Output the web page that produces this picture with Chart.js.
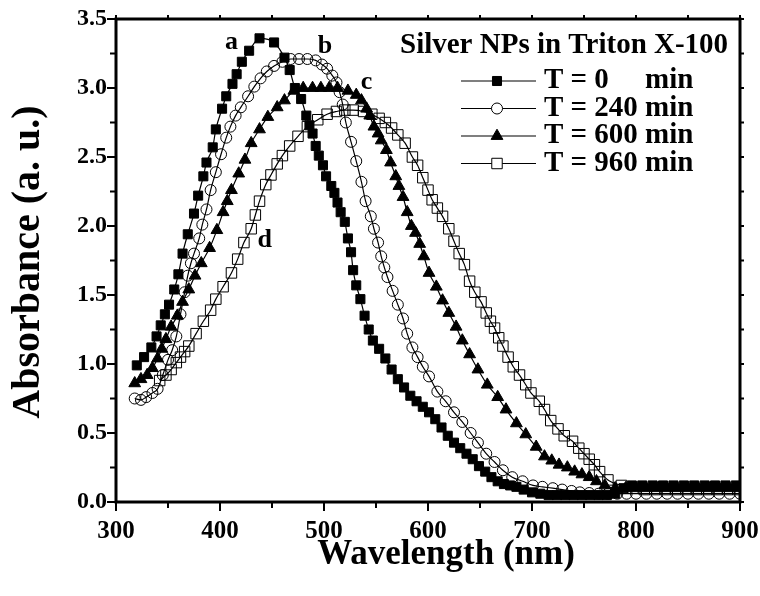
<!DOCTYPE html>
<html>
<head>
<meta charset="utf-8">
<title>Silver NPs in Triton X-100</title>
<script src="https://cdn.jsdelivr.net/npm/chart.js@4.4.1/dist/chart.umd.min.js"></script>
<style>
  body { margin: 0; background: #fff; }
  #chart { display: block; }
</style>
</head>
<body>
<canvas id="chart" width="760" height="596"></canvas>
<script>
// Absorbance spectra (wavelength in nm, absorbance in a.u.)

// a : T = 0 min
var waveA = [320, 327, 334, 339, 343, 347, 351, 356, 360, 364, 369, 375, 379, 384, 387, 393, 396, 402, 406, 412,
    416, 421, 428, 438, 452, 462, 467, 472, 478, 483, 486, 489, 492, 495, 499, 502, 507, 510, 513, 516,
    520, 523, 526, 528, 531, 535, 539, 543, 547, 553, 559, 565, 571, 577, 583, 589, 595, 601, 607, 613,
    619, 625, 631, 637, 643, 649, 655, 661, 667, 673, 679, 685, 692, 700, 708, 716, 724, 732, 740, 748,
    756, 764, 772, 780, 788, 796, 806, 816, 826, 836, 846, 856, 866, 876, 886, 896];
var absA = [0.99, 1.05, 1.12, 1.20, 1.28, 1.36, 1.43, 1.54, 1.65, 1.80, 1.94, 2.09, 2.22, 2.36, 2.46, 2.57, 2.70, 2.85, 2.94, 3.03,
    3.10, 3.19, 3.27, 3.36, 3.33, 3.22, 3.13, 3.00, 2.92, 2.80, 2.73, 2.67, 2.58, 2.51, 2.44, 2.36, 2.29, 2.24, 2.17, 2.10,
    2.03, 1.91, 1.81, 1.68, 1.57, 1.47, 1.35, 1.25, 1.17, 1.11, 1.04, 0.96, 0.89, 0.83, 0.77, 0.73, 0.69, 0.65, 0.60, 0.54,
    0.48, 0.43, 0.39, 0.35, 0.31, 0.26, 0.22, 0.18, 0.15, 0.13, 0.12, 0.11, 0.09, 0.07, 0.06, 0.05, 0.05, 0.05, 0.05, 0.05,
    0.05, 0.05, 0.05, 0.06, 0.10, 0.12, 0.12, 0.12, 0.12, 0.12, 0.12, 0.12, 0.12, 0.12, 0.12, 0.12];

// b : T = 240 min
var waveB = [318, 324, 329, 335, 340, 345, 350, 354, 358, 362, 366, 369, 372, 375, 380, 383, 387, 391, 396, 401,
    406, 410, 415, 420, 427, 433, 439, 445, 452, 460, 468, 476, 484, 492, 498, 503, 508, 512, 515, 518,
    521, 526, 531, 536, 540, 545, 548, 552, 555, 558, 561, 566, 571, 576, 580, 585, 590, 595, 601, 609,
    617, 625, 633, 641, 648, 656, 664, 672, 681, 691, 701, 710, 720, 729, 738, 746, 755, 764, 773, 782,
    791, 800, 810, 820, 830, 840, 850, 860, 870, 880, 890, 900];
var absB = [0.75, 0.74, 0.76, 0.79, 0.82, 0.92, 1.03, 1.10, 1.20, 1.36, 1.52, 1.64, 1.73, 1.80, 1.91, 2.01, 2.12, 2.26, 2.39, 2.52,
    2.64, 2.72, 2.80, 2.86, 2.94, 3.01, 3.07, 3.12, 3.16, 3.19, 3.21, 3.21, 3.21, 3.20, 3.17, 3.14, 3.09, 3.04, 2.97, 2.88,
    2.75, 2.61, 2.47, 2.32, 2.18, 2.07, 1.98, 1.88, 1.78, 1.70, 1.63, 1.53, 1.43, 1.33, 1.22, 1.12, 1.05, 0.98, 0.91, 0.80,
    0.73, 0.65, 0.58, 0.50, 0.43, 0.35, 0.29, 0.23, 0.18, 0.15, 0.12, 0.11, 0.10, 0.09, 0.08, 0.07, 0.065, 0.06, 0.06, 0.06,
    0.06, 0.06, 0.06, 0.06, 0.06, 0.06, 0.06, 0.06, 0.06, 0.06, 0.06, 0.06];

// c : T = 600 min
var waveC = [318, 324, 330, 335, 340, 344, 348, 353, 359, 364, 370, 376, 382, 390, 397, 403, 407, 411, 418, 424,
    430, 438, 446, 455, 462, 471, 480, 489, 497, 505, 513, 523, 531, 536, 541, 544, 548, 552, 555, 560,
    564, 569, 572, 576, 580, 584, 588, 592, 596, 601, 608, 614, 620, 627, 633, 640, 648, 657, 667, 675,
    685, 694, 704, 712, 719, 726, 734, 741, 748, 755, 762, 770, 780, 790, 800, 810, 820, 830, 840, 850,
    860, 870, 880, 890, 900];
var absC = [0.86, 0.89, 0.92, 0.97, 1.04, 1.11, 1.18, 1.27, 1.35, 1.45, 1.54, 1.64, 1.73, 1.84, 1.97, 2.10, 2.18, 2.26, 2.38, 2.48,
    2.60, 2.70, 2.79, 2.86, 2.91, 2.98, 3.00, 3.00, 3.00, 3.00, 3.00, 2.98, 2.95, 2.91, 2.85, 2.80, 2.72, 2.67, 2.62, 2.55,
    2.46, 2.36, 2.29, 2.21, 2.10, 2.00, 1.95, 1.87, 1.78, 1.66, 1.56, 1.46, 1.37, 1.27, 1.17, 1.07, 0.96, 0.85, 0.76, 0.67,
    0.57, 0.49, 0.40, 0.33, 0.30, 0.27, 0.25, 0.22, 0.20, 0.18, 0.15, 0.12, 0.10, 0.10, 0.10, 0.10, 0.10, 0.10, 0.10, 0.10,
    0.10, 0.10, 0.10, 0.10, 0.10];

// d : T = 960 min
var waveD = [342, 348, 353, 358, 362, 366, 370, 377, 384, 391, 396, 403, 411, 417, 423, 430, 434, 438, 444, 449,
    455, 460, 467, 475, 484, 494, 503, 512, 520, 528, 538, 546, 553, 559, 565, 571, 578, 585, 590, 595,
    600, 604, 609, 614, 620, 625, 630, 635, 640, 645, 651, 656, 660, 664, 668, 672, 677, 682, 688, 694,
    699, 707, 712, 718, 725, 731, 739, 745, 750, 755, 760, 765, 773, 786, 797, 808, 818, 828, 838, 848,
    858, 868, 878, 888, 898];
var absD = [0.88, 0.92, 0.96, 1.01, 1.05, 1.09, 1.13, 1.22, 1.31, 1.39, 1.47, 1.56, 1.66, 1.76, 1.88, 1.98, 2.08, 2.18, 2.30, 2.37,
    2.45, 2.51, 2.58, 2.65, 2.72, 2.77, 2.81, 2.83, 2.84, 2.84, 2.83, 2.81, 2.78, 2.75, 2.71, 2.66, 2.60, 2.50, 2.44, 2.35,
    2.26, 2.19, 2.13, 2.07, 1.98, 1.89, 1.80, 1.72, 1.60, 1.52, 1.45, 1.37, 1.31, 1.26, 1.19, 1.13, 1.05, 0.98, 0.92, 0.85,
    0.79, 0.73, 0.67, 0.59, 0.53, 0.48, 0.44, 0.39, 0.35, 0.31, 0.27, 0.22, 0.16, 0.12, 0.10, 0.09, 0.09, 0.09, 0.09, 0.09,
    0.09, 0.09, 0.09, 0.09, 0.09];

// legend / labels
var legendTitle = 'Silver NPs in Triton X-100';
var timeLabels = ['T = 0', 'T = 240', 'T = 600', 'T = 960'];
var curveLetters = ['a', 'b', 'c', 'd'];
var letterWave = [411, 501, 541, 443];
var letterAbs = [3.33, 3.30, 3.04, 1.90];

var xTitle = 'Wavelength (nm)';
var yTitle = 'Absorbance (a. u.)';

const serif = "'Liberation Serif', 'Times New Roman', serif";

function toPoints(xs, ys) {
    return xs.map((v, i) => ({ x: v, y: ys[i] }));
}

function series(xs, ys, style, fill, radius) {
    return {
        data: toPoints(xs, ys),
        showLine: true,
        borderColor: '#000',
        borderWidth: 1.2,
        cubicInterpolationMode: 'monotone',
        pointStyle: style,
        pointRadius: radius,
        pointBorderWidth: 1,
        pointBorderColor: '#000',
        pointBackgroundColor: fill,
        legendFill: fill === 'transparent' ? '#fff' : fill
    };
}

// marker shapes like chart.js draws them
function marker(ctx, style, fill, cx, cy, r) {
    ctx.beginPath();
    if (style === 'circle') {
        ctx.arc(cx, cy, r, 0, Math.PI * 2);
    } else if (style === 'triangle') {
        for (let k = 0; k < 3; k++) {
            const ang = k * 2 * Math.PI / 3;
            const px = cx + Math.sin(ang) * r;
            const py = cy - Math.cos(ang) * r;
            if (k === 0) ctx.moveTo(px, py); else ctx.lineTo(px, py);
        }
        ctx.closePath();
    } else {
        const s = r * Math.SQRT1_2;
        ctx.rect(cx - s, cy - s, 2 * s, 2 * s);
    }
    ctx.fillStyle = fill;
    ctx.fill();
    ctx.lineWidth = 1;
    ctx.strokeStyle = '#000';
    ctx.stroke();
}

// frame, ticks, titles, legend and letters
const decorations = {
    id: 'decorations',
    afterDraw(chart) {
        const ctx = chart.ctx;
        const area = chart.chartArea;
        const xs = chart.scales.x;
        const ys = chart.scales.y;
        ctx.save();

        ctx.strokeStyle = '#000';
        ctx.lineWidth = 3;
        ctx.strokeRect(area.left, area.top, area.right - area.left, area.bottom - area.top);

        ctx.lineWidth = 2;
        ctx.beginPath();
        for (let v = 300; v <= 900; v += 50) {
            const px = xs.getPixelForValue(v);
            const len = v % 100 === 0 ? 9 : 6;
            ctx.moveTo(px, area.bottom + 1);
            ctx.lineTo(px, area.bottom + len);
            ctx.moveTo(px, area.top - 1);
            ctx.lineTo(px, area.top - 4);
        }
        for (let i = 0; i <= 14; i++) {
            const py = ys.getPixelForValue(i * 0.25);
            const len = i % 2 === 0 ? 9 : 6;
            ctx.moveTo(area.left - 1, py);
            ctx.lineTo(area.left - len, py);
            ctx.moveTo(area.right + 1, py);
            ctx.lineTo(area.right + 4, py);
        }
        ctx.stroke();

        ctx.fillStyle = '#000';
        ctx.textBaseline = 'middle';

        // axis titles
        ctx.textAlign = 'center';
        ctx.font = 'bold 35px ' + serif;
        ctx.fillText(xTitle, 446, 555);
        ctx.font = 'bold 40px ' + serif;
        ctx.save();
        ctx.translate(29, 262);
        ctx.rotate(-Math.PI / 2);
        ctx.fillText(yTitle, 0, 0);
        ctx.restore();

        // curve letters
        ctx.font = 'bold 26px ' + serif;
        curveLetters.forEach((t, i) => {
            ctx.fillText(t, xs.getPixelForValue(letterWave[i]), ys.getPixelForValue(letterAbs[i]));
        });

        // legend
        ctx.textAlign = 'left';
        ctx.font = 'bold 29px ' + serif;
        ctx.fillText(legendTitle, 400, 46);
        const minX = 544 + ctx.measureText('T = 240 ').width;
        chart.data.datasets.forEach((ds, i) => {
            const ly = 81 + i * 27.5;
            ctx.beginPath();
            ctx.lineWidth = 1.2;
            ctx.strokeStyle = '#000';
            ctx.moveTo(461, ly);
            ctx.lineTo(536, ly);
            ctx.stroke();
            marker(ctx, ds.pointStyle, ds.legendFill, 497, ly, ds.pointRadius);
            ctx.fillStyle = '#000';
            ctx.fillText(timeLabels[i], 544, ly);
            ctx.fillText('min', minX, ly);
        });

        ctx.restore();
    }
};

new Chart(document.getElementById('chart'), {
    type: 'scatter',
    data: {
        datasets: [
            series(waveA, absA, 'rect', '#000', 6.4),
            series(waveB, absB, 'circle', 'transparent', 5.5),
            series(waveC, absC, 'triangle', '#000', 6.8),
            series(waveD, absD, 'rect', 'transparent', 7.4)
        ]
    },
    options: {
        responsive: false,
        animation: false,
        layout: { padding: { top: 19, right: 20, left: 0, bottom: 0 } },
        plugins: {
            legend: { display: false },
            tooltip: { enabled: false }
        },
        scales: {
            x: {
                type: 'linear',
                min: 300,
                max: 900,
                grid: { display: false, drawTicks: false },
                border: { display: false },
                ticks: {
                    stepSize: 100,
                    autoSkip: false,
                    maxRotation: 0,
                    padding: 15,
                    color: '#000',
                    font: { family: serif, size: 25, weight: 'bold' }
                },
                afterFit: function (scale) {
                    scale.height = 94;
                    scale.paddingLeft = 0;
                    scale.paddingRight = 0;
                }
            },
            y: {
                min: 0,
                max: 3.5,
                grid: { display: false, drawTicks: false },
                border: { display: false },
                ticks: {
                    stepSize: 0.5,
                    padding: 9,
                    color: '#000',
                    font: { family: serif, size: 24, weight: 'bold' },
                    callback: v => v.toFixed(1)
                },
                afterFit: function (scale) {
                    scale.width = 116;
                    scale.paddingTop = 0;
                    scale.paddingBottom = 0;
                }
            }
        }
    },
    plugins: [decorations]
});
</script>
</body>
</html>
